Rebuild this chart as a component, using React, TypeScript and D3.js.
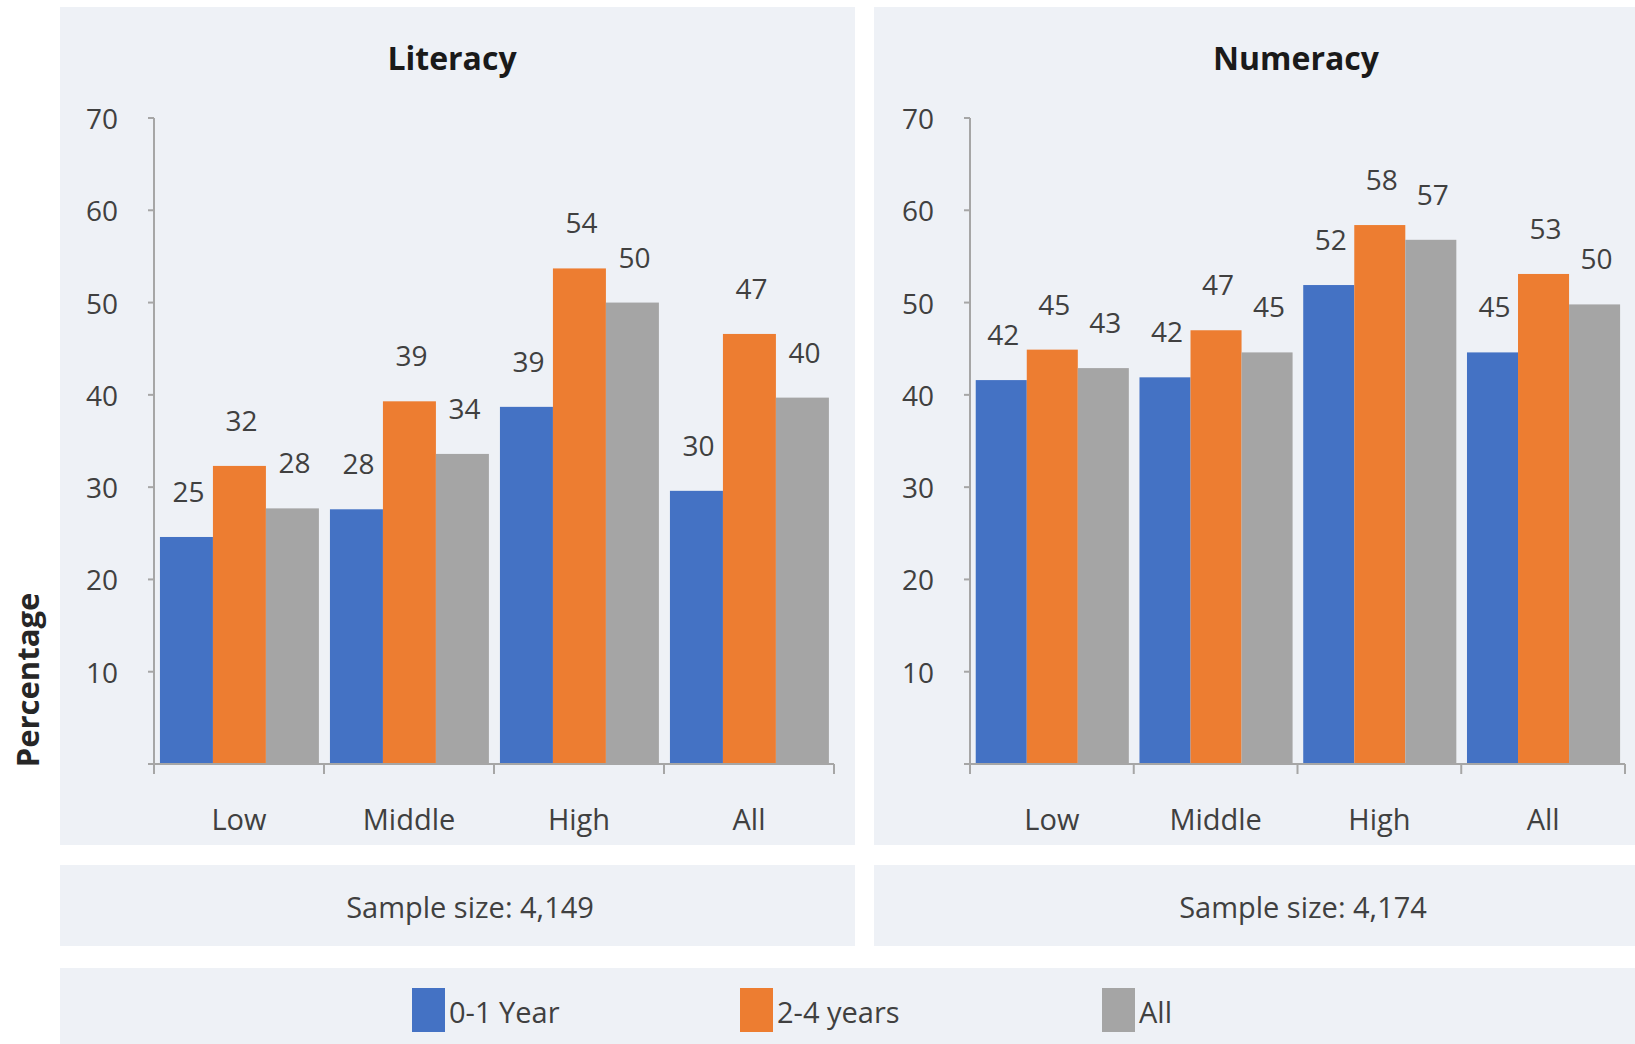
import React from 'react'
import * as d3 from 'd3'

const categories = ['Low', 'Middle', 'High', 'All']
const seriesNames = ['0-1 Year', '2-4 years', 'All']
const colors = ['#4472C4', '#ED7D31', '#A5A5A5']

// values per series, one number per category
const literacy01 = [24.6, 27.6, 38.7, 29.6]
const literacy24 = [32.3, 39.3, 53.7, 46.6]
const literacyAll = [27.7, 33.6, 50.0, 39.7]

const numeracy01 = [41.6, 41.9, 51.9, 44.6]
const numeracy24 = [44.9, 47.0, 58.4, 53.1]
const numeracyAll = [42.9, 44.6, 56.8, 49.8]

const yTicks = [10, 20, 30, 40, 50, 60, 70]

// the right panel runs past the edge of the picture, so its texts sit right of the visible centre
const panels = [
  { title: 'Literacy', sample: 'Sample size: 4,149', series: [literacy01, literacy24, literacyAll], box: [60, 855], plot: [154, 834], titleX: 452, sampleX: 470 },
  { title: 'Numeracy', sample: 'Sample size: 4,174', series: [numeracy01, numeracy24, numeracyAll], box: [874, 1635], plot: [970, 1625], titleX: 1296, sampleX: 1303 },
]

const FONT = "'Open Sans', sans-serif"
const BG = '#EEF1F6'
const AXIS = '#A6A6A6'
const TEXT = '#404040'

const y = d3.scaleLinear().domain([0, 70]).range([764, 118])

const Panel = ({ p }: { p: (typeof panels)[number] }) => {
  const x0 = d3.scaleBand().domain(categories).range(p.plot as [number, number]).padding(0)
  const bw = x0.bandwidth()
  const x1 = d3.scaleBand().domain(seriesNames).range([bw * 0.035, bw * 0.97]).padding(0)
  const [bx0, bx1] = p.box
  return (
    <g>
      <rect x={bx0} y={7} width={bx1 - bx0} height={838} fill={BG} />
      <rect x={bx0} y={865} width={bx1 - bx0} height={81} fill={BG} />
      <text x={p.titleX} y={57} textAnchor="middle" dominantBaseline="central" fontSize={32} fontWeight="bold" fill="#1a1a1a">
        {p.title}
      </text>
      <text x={p.sampleX} y={906} textAnchor="middle" dominantBaseline="central" fontSize={29} fill={TEXT}>
        {p.sample}
      </text>
      {/* y axis */}
      <line x1={p.plot[0]} x2={p.plot[0]} y1={y(70)} y2={y(0)} stroke={AXIS} strokeWidth={2} />
      {[0, ...yTicks].map((t) => (
        <line key={'yt' + t} x1={p.plot[0] - 6} x2={p.plot[0]} y1={y(t)} y2={y(t)} stroke={AXIS} strokeWidth={2} />
      ))}
      {yTicks.map((t) => (
        <text key={'yl' + t} x={p.plot[0] - 36} y={y(t)} textAnchor="end" dominantBaseline="central" fontSize={28} fill={TEXT}>
          {t}
        </text>
      ))}
      {/* bars */}
      {p.series.map((vals, si) =>
        vals.map((v, ci) => {
          const bx = (x0(categories[ci]) as number) + (x1(seriesNames[si]) as number)
          return (
            <rect key={`b${si}-${ci}`} x={bx} y={y(v)} width={x1.bandwidth()} height={y(0) - y(v)} fill={colors[si]} />
          )
        })
      )}
      {p.series.map((vals, si) =>
        vals.map((v, ci) => {
          const bx = (x0(categories[ci]) as number) + (x1(seriesNames[si]) as number)
          return (
            <text key={`v${si}-${ci}`} x={bx + x1.bandwidth() / 2 + 2} y={y(v) - 46} textAnchor="middle" dominantBaseline="central" fontSize={28} fill={TEXT}>
              {Math.round(v)}
            </text>
          )
        })
      )}
      {/* x axis */}
      <line x1={p.plot[0]} x2={p.plot[1]} y1={y(0)} y2={y(0)} stroke={AXIS} strokeWidth={2} />
      {[...categories.map((c) => x0(c) as number), p.plot[1]].map((xv, i) => (
        <line key={'xt' + i} x1={xv} x2={xv} y1={y(0)} y2={y(0) + 10} stroke={AXIS} strokeWidth={2} />
      ))}
      {categories.map((c) => (
        <text key={'xl' + c} x={(x0(c) as number) + bw / 2} y={818} textAnchor="middle" dominantBaseline="central" fontSize={29} fill={TEXT}>
          {c}
        </text>
      ))}
    </g>
  )
}

const legendX = [412, 740, 1102]

export default function App() {
  return (
    <svg width={1635} height={1044} style={{ position: 'absolute', left: 0, top: 0 }} fontFamily={FONT}>
      <rect x={0} y={0} width={1635} height={1044} fill="#ffffff" />
      {panels.map((p) => (
        <Panel key={p.title} p={p} />
      ))}
      <text transform="translate(27,680) rotate(-90)" textAnchor="middle" dominantBaseline="central" fontSize={31} fontWeight="bold" fill="#262626">
        Percentage
      </text>
      <rect x={60} y={968} width={1575} height={76} fill={BG} />
      {seriesNames.map((s, i) => (
        <g key={'lg' + s}>
          <rect x={legendX[i]} y={988} width={33} height={44} fill={colors[i]} />
          <text x={legendX[i] + 37} y={1011} dominantBaseline="central" fontSize={29} fill={TEXT}>
            {s}
          </text>
        </g>
      ))}
    </svg>
  )
}
